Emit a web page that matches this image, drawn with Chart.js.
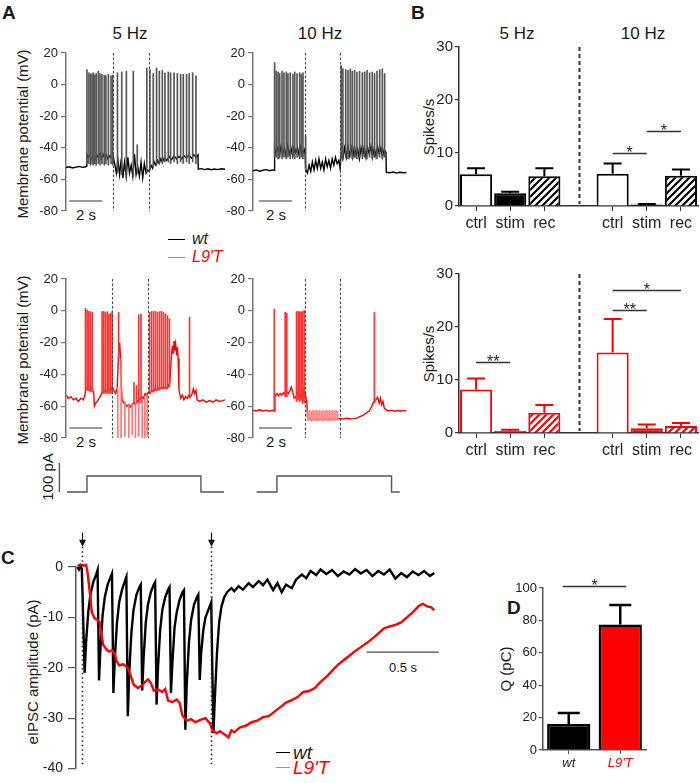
<!DOCTYPE html>
<html>
<head>
<meta charset="utf-8">
<title>Firing and eIPSC figure</title>
<script src="https://cdn.jsdelivr.net/npm/chart.js@4.4.0/dist/chart.umd.min.js"></script>
<style>
  body { margin: 0; background: #fff; }
  #fig { position: relative; width: 700px; height: 783px; overflow: hidden;
         font-family: "Liberation Sans", Arial, Helvetica, sans-serif; color: #1a1a1a; }
  #fig canvas { position: absolute; }
  .t { position: absolute; white-space: nowrap; line-height: 1; }
  .panel { font-weight: bold; font-size: 19px; }
  .ttl { font-size: 17px; transform: translate(-50%, -50%); }
  .rot { font-size: 15px; transform: translate(-50%, -50%) rotate(-90deg); }
  .lbl { font-size: 15px; transform: translate(-50%, -50%); }
  .leg { font-style: italic; transform: translateY(-50%); }
  .ln { position: absolute; height: 0; }
</style>
</head>
<body>
<div id="fig">
  <div class="t panel" style="left:2px;top:3px">A</div>
  <div class="t panel" style="left:411px;top:3px">B</div>
  <div class="t panel" style="left:1px;top:548px">C</div>
  <div class="t panel" style="left:507px;top:598px">D</div>

  <div class="t ttl" style="left:130px;top:33px">5 Hz</div>
  <div class="t ttl" style="left:320px;top:33px">10 Hz</div>
  <div class="t ttl" style="left:517px;top:33px">5 Hz</div>
  <div class="t ttl" style="left:643px;top:33px">10 Hz</div>

  <div class="t rot" style="left:22px;top:134px">Membrane potential (mV)</div>
  <div class="t rot" style="left:22px;top:360px">Membrane potential (mV)</div>
  <div class="t rot" style="left:428px;top:127px">Spikes/s</div>
  <div class="t rot" style="left:428px;top:354px">Spikes/s</div>
  <div class="t rot" style="left:47px;top:477px">100 pA</div>
  <div class="t rot" style="left:32px;top:672px">eIPSC amplitude (pA)</div>
  <div class="t rot" style="left:505px;top:669px">Q (pC)</div>

  <div class="t lbl" style="left:86px;top:214px">2 s</div>
  <div class="t lbl" style="left:276px;top:214px">2 s</div>
  <div class="t lbl" style="left:86px;top:441px">2 s</div>
  <div class="t lbl" style="left:276px;top:441px">2 s</div>
  <div class="t lbl" style="left:403px;top:667px;font-size:13px">0.5 s</div>

  <div class="ln" style="left:168px;top:239px;width:17px;border-top:1.5px solid #000"></div>
  <div class="t leg" style="left:192px;top:239px;font-size:16px">wt</div>
  <div class="ln" style="left:168px;top:257px;width:17px;border-top:1.5px solid #f66"></div>
  <div class="t leg" style="left:192px;top:257px;font-size:16px;color:#f00">L9'T</div>

  <div class="ln" style="left:276px;top:752px;width:14px;border-top:1.5px solid #000"></div>
  <div class="t leg" style="left:293px;top:752px;font-size:19px">wt</div>
  <div class="ln" style="left:276px;top:767px;width:14px;border-top:1.5px solid #f66"></div>
  <div class="t leg" style="left:293px;top:767px;font-size:19px;color:#f00">L9'T</div>
</div>

<script>
// ===== DATA =====

// Panel A: membrane potential traces, [time (s), mV]
const wt5Trace = [[0,-52.5],[0.2,-52],[0.4,-52.8],[0.6,-52.2],[0.8,-51.8],[1.0,-52.4],[1.2,-52],[1.25,-51.5],
  [1.26,-44],[1.35,-46],[1.45,-44.5],[1.55,-47],[1.65,-45],[1.75,-48],[1.85,-44],[1.95,-46],[2.05,-43.5],[2.15,-47],
  [2.25,-44],[2.35,-46.5],[2.45,-44.5],[2.55,-47.5],[2.65,-45],[2.75,-46],[2.85,-44.5],
  [2.95,-50],[3.05,-56],[3.15,-48],[3.25,-57],[3.35,-47],[3.45,-59],[3.55,-49],[3.65,-58],[3.75,-46],[3.85,-56],
  [3.95,-51],[4.05,-58],[4.15,-44],[4.25,-57],[4.35,-52],[4.45,-58],[4.55,-49],[4.65,-59],[4.75,-50],[4.85,-56],
  [4.95,-54],[5.05,-55],[5.15,-51],[5.25,-53],[5.35,-49],[5.45,-51],[5.55,-48],[5.65,-50],[5.75,-47],[5.85,-49],
  [5.95,-46.5],[6.1,-48],[6.25,-45.5],[6.4,-47.5],[6.55,-45],[6.7,-47],[6.85,-45.5],[7.0,-47],[7.15,-45],[7.3,-46.5],
  [7.45,-44.5],[7.6,-46.5],[7.75,-44.5],[7.9,-46],[8.0,-44.5],[8.02,-53.5],[8.2,-53.2],[8.4,-53.8],[8.6,-53.3],
  [8.8,-53.9],[9.0,-53.4],[9.2,-53.8],[9.4,-53.3],[9.64,-53.6]];
// spikes: [time, trough, peak]
const wt5Spikes = [[1.27,-50,9.5],[1.39,-50,7.5],[1.49,-51,6.5],[1.58,-50,7],[1.66,-51,7.5],[1.75,-50,6],[1.83,-51,7],
  [1.96,-50,8.5],[2.06,-51,7],[2.18,-50,6.5],[2.32,-51,6],[2.42,-50,5.5],[2.57,-51,6.5],[2.73,-50,5.5],[2.83,-51,6],
  [3.12,-56,7.5],[3.38,-57,8],[3.66,-58,8.5],[4.08,-58,8.5],[4.32,-56,-38],[4.9,-56,10.5],
  [5.09,-53,9.5],[5.29,-52,7],[5.49,-51,10.5],[5.66,-50,8.5],[5.84,-50,9],[6.0,-49,7.5],[6.2,-49,8],[6.34,-50,7.5],
  [6.55,-49,7.5],[6.75,-50,7],[6.95,-49,6.5],[7.11,-50,6.5],[7.31,-49,6.5],[7.47,-50,7],[7.68,-49,7.5],[7.88,-50,5.5]];
const wt5Stim = [2.83, 5.01];

const wt10Trace = [[0,-54.5],[0.2,-54],[0.4,-54.8],[0.6,-54.2],[0.8,-53.8],[1.0,-54.5],[1.2,-54],[1.3,-54.3],
  [1.31,-40],[1.4,-44],[1.5,-40],[1.6,-45],[1.7,-39],[1.8,-44],[1.9,-40],[2.0,-45],[2.1,-38.5],[2.2,-44],[2.3,-40],
  [2.4,-45],[2.5,-39],[2.6,-43],[2.7,-40],[2.8,-45],[2.9,-39.5],[3.0,-44],[3.1,-41],[3.15,-43],
  [3.2,-54],[3.3,-56],[3.4,-51],[3.5,-55],[3.6,-49],[3.7,-54],[3.8,-48],[3.9,-53],[4.0,-47],[4.1,-53],[4.2,-49],
  [4.3,-54],[4.4,-47],[4.5,-52],[4.6,-48],[4.7,-53],[4.8,-47],[4.9,-51],[5.0,-46],[5.1,-50],[5.2,-48],[5.28,-53],
  [5.35,-42],[5.45,-47],[5.55,-40],[5.65,-46],[5.75,-39],[5.85,-45],[5.95,-40],[6.05,-46],[6.15,-39],[6.25,-45],
  [6.35,-41],[6.45,-47],[6.55,-40],[6.65,-45],[6.75,-39],[6.85,-46],[6.95,-40],[7.05,-44],[7.15,-39],[7.25,-46],
  [7.35,-40],[7.45,-45],[7.55,-39],[7.65,-44],[7.75,-40],[7.85,-46],[7.95,-41],[8.06,-43],
  [8.08,-55.5],[8.3,-55.8],[8.5,-55.3],[8.7,-56],[8.9,-55.5],[9.1,-55.8],[9.3,-55.6]];
const wt10Spikes = [[1.31,-46,14],[1.41,-46,8.5],[1.52,-47,8],[1.62,-46,7],[1.76,-47,8.5],[1.88,-46,7.5],[2.02,-47,8],
  [2.12,-46,7],[2.26,-47,7.5],[2.42,-46,6.5],[2.53,-47,8],[2.67,-46,7],[2.83,-47,7.5],[2.93,-46,6.5],[3.03,-47,7.5],
  [3.19,-54,-32.5],[5.35,-47,12],[5.45,-47,10],[5.62,-46,9.5],[5.76,-47,9],[5.9,-46,10],[6.02,-47,8.5],[6.16,-46,9],
  [6.3,-47,8],[6.46,-46,8.5],[6.63,-47,7.5],[6.77,-46,8],[6.91,-47,9],[7.07,-46,7.5],[7.23,-47,8],[7.37,-46,7],
  [7.52,-47,8.5],[7.68,-46,9.5],[7.84,-47,10],[7.98,-46,7]];
const wt10Stim = [3.13, 5.29];

const l9t5Trace = [[0,-53],[0.15,-55],[0.3,-54],[0.45,-56],[0.6,-55],[0.75,-57],[0.9,-55],[1.05,-56],[1.15,-53],
  [1.2,-49],[1.3,-48],[1.4,-50],[1.5,-48],[1.6,-49],[1.68,-52],[1.72,-60],[1.8,-58],[1.9,-57],[2.0,-55],[2.1,-53.5],
  [2.2,-51],[2.3,-50],[2.4,-51],[2.5,-50],[2.6,-49],[2.7,-50],[2.8,-48],[2.9,-50],[3.0,-52],[3.1,-49],[3.2,-24],
  [3.25,-20],[3.3,-28],[3.35,-45],[3.4,-56],[3.5,-58],[3.6,-59],[3.7,-60],[3.8,-59],[3.9,-60.5],[4.0,-59],[4.1,-58],
  [4.2,-59],[4.3,-57],[4.4,-56],[4.5,-55],[4.6,-54],[4.7,-55],[4.8,-52],[4.9,-53],[5.0,-51],[5.1,-52],[5.2,-50],
  [5.3,-51],[5.4,-49],[5.5,-50],[5.6,-48.5],[5.7,-49],[5.8,-48],[5.9,-49],[6.0,-48],[6.1,-49],[6.2,-47.5],[6.3,-45],
  [6.38,-30],[6.45,-22],[6.5,-27],[6.55,-19],[6.6,-25],[6.65,-21],[6.7,-28],[6.75,-23],[6.8,-30],[6.85,-50],
  [6.95,-55],[7.05,-53],[7.15,-56],[7.25,-54],[7.35,-55],[7.45,-53],[7.55,-54],[7.65,-52],[7.72,-49],[7.8,-52],
  [7.88,-50],[7.95,-56],[8.1,-57],[8.3,-56],[8.5,-57.5],[8.7,-56.5],[8.9,-57.5],[9.1,-56],[9.3,-57],[9.5,-56.5],[9.64,-56]];
const l9t5Spikes = [[1.21,-50,1.5],[1.31,-50,0.5],[1.41,-50,0],[1.52,-51,-0.5],[1.62,-51,-1],
  [2.22,-52,-0.5],[2.32,-52,0],[2.42,-52,-1],[2.53,-52,-0.5],[2.63,-52,-2],[2.73,-52,-1.5],[2.83,-52,-0.5],
  [3.22,-30,-1],[4.15,-58,-45],[4.3,-58,-47],[4.44,-58,-2.5],[4.58,-58,-2],
  [5.1,-52,-1],[5.22,-51,0],[5.34,-51,-0.5],[5.46,-50,0],[5.58,-50,-1],[5.7,-50,-0.5],[5.82,-49,0],[5.94,-49,-1],
  [6.06,-49,-2],[6.18,-49,-3],[6.3,-48,-5],[7.52,-55,-4]];
// stimulation artefacts, [time, low, high]
const l9t5Artefacts = [[3.11,-80,-48],[3.31,-80,-30],[3.54,-79,-57],[3.78,-80,-59],[3.98,-78,-59],[4.18,-80,-58],
  [4.38,-79,-57],[4.59,-80,-55],[4.75,-80,-54],[4.89,-79,-53]];
const l9t5Stim = [2.77, 4.95];

const l9t10Trace = [[0,-62.5],[0.2,-63],[0.4,-62.3],[0.6,-63],[0.8,-62.5],[1.0,-63.2],[1.2,-62.6],[1.3,-63],
  [1.33,-54],[1.45,-52],[1.55,-53.5],[1.65,-52],[1.75,-53],[1.85,-51.5],[1.95,-52.5],[2.05,-51],[2.15,-52],[2.25,-50],
  [2.32,-48],[2.4,-51],[2.5,-55],[2.6,-54],[2.7,-52],[2.8,-56],[2.9,-53],[3.0,-57],[3.1,-50],[3.2,-54],[3.27,-58],
  [3.3,-67],[3.5,-68.5],[3.7,-68],[3.9,-68.5],[4.1,-68],[4.3,-68.3],[4.5,-67.8],[4.7,-68.2],[4.9,-67.8],[5.1,-68],
  [5.3,-67.8],[5.5,-68],[5.7,-67.6],[5.9,-68],[6.1,-67.8],[6.3,-67.5],[6.5,-66.5],[6.7,-65.5],[6.9,-64],[7.05,-63],
  [7.2,-60],[7.3,-57.5],[7.45,-56],[7.55,-54.5],[7.65,-58],[7.72,-55],[7.8,-59],[7.88,-57],[7.95,-61],[8.05,-62],
  [8.2,-63],[8.4,-62.5],[8.6,-63.2],[8.8,-62.7],[9.0,-63],[9.3,-62.8]];
const l9t10Spikes = [[1.32,-63,1],[1.98,-54,-1],[2.08,-54,-1.5],[2.67,-57,-0.5],[2.77,-56,0],[2.87,-57,-0.5],
  [2.95,-56,-1],[3.03,-57,0],[3.13,-58,0.2],[7.39,-58,-1]];
const l9t10Artefacts = [[3.3,-69,-63],[3.4,-69,-62.5],[3.5,-69.5,-63],[3.6,-69,-62.5],[3.7,-69,-63],[3.8,-69.5,-62.5],
  [3.9,-69,-63],[4.0,-69,-62.5],[4.1,-69,-63],[4.2,-69.5,-62.5],[4.3,-69,-63],[4.4,-69,-62.5],[4.5,-69,-63],
  [4.6,-69.5,-62.5],[4.7,-69,-63],[4.8,-69,-62.5],[4.9,-69,-63],[5.0,-69,-62.5],[5.1,-68.5,-63]];
const l9t10Stim = [3.13, 5.29];

// Injected current steps, [time, pA]
const step5 = [[0.06,0],[1.27,0],[1.27,55],[8.18,55],[8.18,0],[9.58,0]];
const step10 = [[0.22,0],[1.45,0],[1.45,55],[8.4,55],[8.4,0],[8.9,0]];

// Panel B: firing rate (spikes/s), mean and mean+SEM
const rateLabels = ['ctrl', 'stim', 'rec', '', 'ctrl', 'stim', 'rec'];
const wtRate = [6.0, 2.4, 5.6, null, 6.1, 0.3, 5.7];
const wtRateErr = [7.1, 2.7, 7.1, null, 8.0, 0.4, 6.9];
const l9tRate = [8.2, 0.4, 3.8, null, 15.2, 0.9, 1.3];
const l9tRateErr = [10.3, 0.6, 5.3, null, 21.5, 1.6, 1.9];
// significance bars: [from index, to index, level, label]
const wtRateSig = [[4, 5, 10, '*'], [5, 6, 14.2, '*']];
const l9tRateSig = [[0, 1, 13.4, '**'], [4, 5, 23.2, '**'], [4, 6, 27, '*']];

// Panel C: eIPSC traces, [time (s), pA]
const ipscWt = [[0.01,0],[0.02,-0.5],[0.03,0.2],[0.04,-0.3],[0.045,-5],[0.06,-21],[0.07,-15],[0.085,-9],[0.1,-5.5],
  [0.12,-3],[0.14,-1.5],[0.15,-0.6],[0.16,-22.5],[0.17,-16],[0.185,-9.5],[0.2,-6],[0.22,-3.5],[0.24,-2],[0.25,-1.3],
  [0.26,-25],[0.27,-18],[0.285,-11],[0.3,-7],[0.32,-4.5],[0.34,-2.8],[0.35,-2],
  [0.36,-29.6],[0.37,-21],[0.385,-13],[0.4,-8.5],[0.42,-5.5],[0.44,-4],[0.45,-3.5],
  [0.46,-24.5],[0.47,-18],[0.485,-11],[0.5,-7.5],[0.52,-5],[0.54,-3.5],[0.55,-3],
  [0.56,-27.3],[0.57,-20],[0.585,-12.5],[0.6,-8.5],[0.62,-6],[0.64,-4.5],[0.65,-4],
  [0.66,-25],[0.67,-19],[0.685,-12],[0.7,-9],[0.72,-6.5],[0.74,-5],[0.75,-4.6],
  [0.76,-32.3],[0.77,-23],[0.785,-15],[0.8,-10.5],[0.82,-7.5],[0.84,-6],[0.85,-5.5],
  [0.86,-22.4],[0.87,-17],[0.885,-12.5],[0.9,-10],[0.92,-8.5],[0.94,-7],
  [0.955,-33],[0.965,-26],[0.98,-17],[0.995,-11],[1.01,-8],[1.03,-6],[1.05,-5],[1.08,-4.2],[1.1,-4.8],[1.13,-3.8],
  [1.16,-4.5],[1.2,-3.2],[1.23,-4],[1.27,-2.8],[1.3,-3.6],[1.33,-2.5],[1.37,-4.6],[1.4,-3.2],[1.43,-5],[1.46,-3.5],
  [1.5,-4.2],[1.53,-2.5],[1.57,-1.5],[1.6,-2.2],[1.63,-0.8],[1.67,-1.6],[1.7,-0.5],[1.74,-1.4],[1.78,-0.6],[1.82,-1.8],
  [1.86,-0.9],[1.9,-1.5],[1.94,-0.4],[1.98,-1.3],[2.02,-0.6],[2.06,-1.8],[2.1,-0.8],[2.14,-1.5],[2.18,-0.5],
  [2.22,-2.3],[2.26,-1.2],[2.3,-2],[2.34,-0.9],[2.38,-1.6],[2.42,-0.8],[2.46,-1.8],[2.49,-1.2]];
const ipscL9t = [[0.01,0.2],[0.03,0.5],[0.05,0.3],[0.07,0.4],[0.08,-1],[0.1,-6],[0.11,-9],[0.13,-10.2],[0.15,-10.5],
  [0.165,-11],[0.18,-14],[0.19,-15.5],[0.21,-16.3],[0.23,-16.8],[0.25,-16.5],[0.27,-17.2],[0.28,-18.5],[0.3,-19.5],
  [0.33,-19.3],[0.36,-20],[0.38,-21.5],[0.4,-23.3],[0.43,-24],[0.46,-23.5],[0.48,-22.8],[0.5,-22.3],[0.52,-23],
  [0.54,-24.5],[0.57,-24.3],[0.6,-24.8],[0.62,-24.2],[0.64,-26.5],[0.67,-26.8],[0.7,-26.3],[0.72,-27],[0.74,-29.5],
  [0.77,-30.5],[0.8,-30.2],[0.83,-30.8],[0.86,-30.4],[0.9,-30],[0.93,-31],[0.95,-32.5],[0.98,-33],[1.0,-32.6],
  [1.03,-33.2],[1.06,-33.8],[1.08,-32.4],[1.1,-32.8],[1.14,-31.8],[1.18,-31.5],[1.22,-30.8],[1.26,-30.5],[1.3,-29.8],
  [1.34,-29.6],[1.38,-28.7],[1.42,-27.8],[1.46,-26.9],[1.5,-26.4],[1.54,-25.8],[1.58,-24.8],[1.62,-24.6],[1.66,-24],
  [1.7,-22.8],[1.74,-21.8],[1.78,-20.6],[1.82,-19.4],[1.86,-18.5],[1.9,-17.6],[1.94,-16.7],[1.98,-15.9],[2.02,-15.1],
  [2.06,-14.2],[2.1,-13.2],[2.14,-12.2],[2.18,-11.8],[2.22,-11.5],[2.26,-11],[2.3,-10],[2.34,-9],[2.38,-7.8],
  [2.41,-7.3],[2.44,-7.8],[2.47,-8],[2.49,-8.6]];
const ipscTrain = [0.04, 0.935];

// Panel D: charge (pC)
const chargeLabels = ['wt', "L9'T"];
const chargeMean = [16, 77.5];
const chargeErr = [22.8, 89.5];
const chargeSig = [[0, 1, 101.5, '*']];

// ===== STYLE =====
const RED = '#ff0000';
const FONT = '"Liberation Sans", Arial, Helvetica, sans-serif';
Chart.defaults.font.family = FONT;
Chart.defaults.color = '#222';

/**
 * Create an absolutely placed canvas whose chart area lands on `area`
 */
function placeCanvas(id, area, pad) {
  const c = document.createElement('canvas');
  c.id = id;
  c.width = area.r - area.l + pad.l + pad.r;
  c.height = area.b - area.t + pad.t + pad.b;
  c.style.left = (area.l - pad.l) + 'px';
  c.style.top = (area.t - pad.t) + 'px';
  document.getElementById('fig').appendChild(c);
  return c;
}

function yAxis(min, max, step, size, width, color, tick, pad) {
  return {
    min, max,
    ticks: { stepSize: step, font: { size }, color: '#222', padding: pad },
    grid: { drawOnChartArea: false, drawTicks: true, tickLength: tick, color, lineWidth: 1.2 },
    border: { display: true, color, width: 1.5 },
    afterFit(s) { s.width = width; }
  };
}

const toXY = arr => arr.map(p => ({ x: p[0], y: p[1] }));
const toFloat = arr => arr.map(p => ({ x: p[0], y: [p[1], p[2]] }));

// Draws dashed markers, scale bars, error bars, significance bars and arrows
const marksPlugin = {
  id: 'marks',
  afterDatasetsDraw(chart, args, o) {
    const ctx = chart.ctx;
    const X = v => chart.scales.x.getPixelForValue(v);
    const Y = v => chart.scales.y.getPixelForValue(v);
    ctx.save();

    (o.vlines || []).forEach(l => {
      const px = Math.round(X(l.x)) + 0.5;
      ctx.beginPath();
      ctx.setLineDash(l.dash || []);
      ctx.strokeStyle = l.color;
      ctx.lineWidth = l.width;
      ctx.moveTo(px, Y(l.from));
      ctx.lineTo(px, Y(l.to));
      ctx.stroke();
    });
    ctx.setLineDash([]);

    (o.bars || []).forEach(b => {
      ctx.beginPath();
      ctx.strokeStyle = b.color;
      ctx.lineWidth = b.width;
      ctx.moveTo(X(b.x0), Y(b.y0));
      ctx.lineTo(X(b.x1), Y(b.y1));
      ctx.stroke();
    });

    if (o.errors) {
      const meta = chart.getDatasetMeta(0);
      const e = o.errors;
      ctx.strokeStyle = e.color;
      ctx.lineWidth = e.width;
      e.hi.forEach((hi, i) => {
        if (hi == null) return;
        const cx = meta.data[i].x;
        const yh = Y(hi);
        ctx.beginPath();
        ctx.moveTo(cx, Y(e.mean[i]));
        ctx.lineTo(cx, yh);
        ctx.moveTo(cx - e.cap, yh);
        ctx.lineTo(cx + e.cap, yh);
        ctx.stroke();
      });
    }

    (o.sig || []).forEach(s => {
      const meta = chart.getDatasetMeta(0);
      const x0 = meta.data[s[0]].x - (o.sigExt || 0);
      const x1 = meta.data[s[1]].x + (o.sigExt || 0);
      const y = Math.round(Y(s[2])) + 0.5;
      ctx.beginPath();
      ctx.strokeStyle = '#333';
      ctx.lineWidth = 1.3;
      ctx.moveTo(x0, y);
      ctx.lineTo(x1, y);
      ctx.stroke();
      ctx.fillStyle = '#222';
      ctx.font = '16px ' + FONT;
      ctx.textAlign = 'center';
      ctx.textBaseline = 'alphabetic';
      ctx.fillText(s[3], (x0 + x1) / 2, y + 4);
    });

    (o.arrows || []).forEach(a => {
      const px = Math.round(X(a.x)) + 0.5;
      const tip = Y(a.to);
      ctx.beginPath();
      ctx.strokeStyle = '#111';
      ctx.lineWidth = 1.2;
      ctx.moveTo(px, Y(a.from));
      ctx.lineTo(px, tip - 5);
      ctx.stroke();
      ctx.beginPath();
      ctx.fillStyle = '#111';
      ctx.moveTo(px - 3.5, tip - 7);
      ctx.lineTo(px + 3.5, tip - 7);
      ctx.lineTo(px, tip);
      ctx.closePath();
      ctx.fill();
    });

    ctx.restore();
  }
};

const baseOptions = () => ({
  responsive: false,
  animation: false,
  events: [],
  plugins: { legend: { display: false }, tooltip: { enabled: false } }
});

// ===== PANEL A =====
const A_X_MAX = 9.7;

function traceChart(id, area, trace, spikeSets, color, stim) {
  const canvas = placeCanvas(id, area, { l: 46, t: 12, r: 4, b: 12 });
  const datasets = [{
    type: 'line', data: toXY(trace), borderColor: color, borderWidth: 1.4,
    pointRadius: 0, tension: 0, order: 2
  }];
  spikeSets.forEach(s => datasets.push({
    type: 'bar', data: toFloat(s.data), backgroundColor: s.color,
    borderWidth: 0, barThickness: 1, order: 1
  }));
  const opts = baseOptions();
  opts.layout = { padding: { top: 12, bottom: 12, left: 0, right: 4 } };
  opts.plugins.marks = {
    vlines: stim.map(t => ({ x: t, from: 20, to: -80, dash: [2.5, 2], color: '#444', width: 1.1 })),
    bars: [{ x0: area.barStart, x1: area.barStart + 2, y0: -73.7, y1: -73.7, color: '#777', width: 1.6 }]
  };
  opts.scales = {
    x: { type: 'linear', min: 0, max: A_X_MAX, display: false, offset: false },
    y: yAxis(-80, 20, 20, 13, 46, '#777', 5, 3)
  };
  return new Chart(canvas, { type: 'line', data: { datasets }, options: opts, plugins: [marksPlugin] });
}

traceChart('wt5', { l: 66, t: 53, r: 226, b: 211, barStart: 0.2 }, wt5Trace,
  [{ data: wt5Spikes, color: '#555' }], '#000', wt5Stim);
traceChart('wt10', { l: 253, t: 53, r: 413, b: 211, barStart: 0.36 }, wt10Trace,
  [{ data: wt10Spikes, color: '#555' }], '#000', wt10Stim);
traceChart('l9t5', { l: 66, t: 279, r: 226, b: 438, barStart: 0.2 }, l9t5Trace,
  [{ data: l9t5Spikes, color: '#f33' }, { data: l9t5Artefacts, color: '#f77' }], RED, l9t5Stim);
traceChart('l9t10', { l: 253, t: 279, r: 413, b: 438, barStart: 0.36 }, l9t10Trace,
  [{ data: l9t10Spikes, color: '#f33' }, { data: l9t10Artefacts, color: '#f88' }], RED, l9t10Stim);

function stepChart(id, area, step, withScale) {
  const canvas = placeCanvas(id, area, { l: 26, t: 4, r: 4, b: 4 });
  const opts = baseOptions();
  opts.layout = { padding: { top: 4, bottom: 4, left: 26, right: 4 } };
  opts.plugins.marks = withScale
    ? { bars: [{ x0: -0.4, x1: -0.4, y0: 0, y1: 100, color: '#555', width: 1.4 }] } : {};
  opts.scales = {
    x: { type: 'linear', min: 0, max: A_X_MAX, display: false },
    y: { min: 0, max: 100, display: false }
  };
  return new Chart(canvas, {
    type: 'line',
    data: { datasets: [{ data: toXY(step), borderColor: '#555', borderWidth: 1.4, pointRadius: 0, tension: 0, clip: false }] },
    options: opts,
    plugins: [marksPlugin]
  });
}

stepChart('step5', { l: 66, t: 463, r: 226, b: 492 }, step5, true);
stepChart('step10', { l: 253, t: 463, r: 413, b: 492 }, step10, false);

// ===== PANEL B =====
function hatch(color) {
  const p = document.createElement('canvas');
  p.width = 7; p.height = 7;
  const g = p.getContext('2d');
  g.fillStyle = '#fff';
  g.fillRect(0, 0, 7, 7);
  g.strokeStyle = color;
  g.lineWidth = 2.2;
  g.beginPath();
  g.moveTo(-1, 8); g.lineTo(8, -1);
  g.moveTo(-1, 1); g.lineTo(1, -1);
  g.moveTo(6, 8); g.lineTo(8, 6);
  g.stroke();
  return g.createPattern(p, 'repeat');
}

function rateChart(id, area, means, errs, fills, edge, sig) {
  const canvas = placeCanvas(id, area, { l: 26, t: 12, r: 2, b: 30 });
  const opts = baseOptions();
  opts.layout = { padding: { top: 12, bottom: 4, left: 0, right: 2 } };
  opts.plugins.marks = {
    errors: { mean: means, hi: errs, color: edge, width: 2, cap: 9 },
    sig,
    vlines: [{ x: 3, from: 30, to: 0.4, dash: [4, 3], color: '#333', width: 2 }]
  };
  opts.scales = {
    x: {
      ticks: { font: { size: 16 }, color: '#222', padding: 3, maxRotation: 0, minRotation: 0, autoSkip: false },
      grid: { offset: false, drawOnChartArea: false, drawTicks: true, tickLength: 5,
              color: c => (c.index === 3 ? 'rgba(0,0,0,0)' : '#333') },
      border: { display: true, color: '#333', width: 1.5 },
      afterFit(s) { s.height = 26; }
    },
    y: yAxis(0, 30, 10, 15, 26, '#333', 4, 2)
  };
  return new Chart(canvas, {
    type: 'bar',
    data: {
      labels: rateLabels,
      datasets: [{ data: means, backgroundColor: fills, borderColor: edge, borderWidth: 2,
                   barPercentage: 0.94, categoryPercentage: 1 }]
    },
    options: opts,
    plugins: [marksPlugin]
  });
}

const hatchBlack = hatch('#000');
const hatchRed = hatch(RED);
rateChart('rateWt', { l: 459, t: 47, r: 698, b: 206 }, wtRate, wtRateErr,
  ['#fff', '#000', hatchBlack, '#fff', '#fff', '#000', hatchBlack], '#000', wtRateSig);
rateChart('rateL9t', { l: 459, t: 274, r: 698, b: 433 }, l9tRate, l9tRateErr,
  ['#fff', RED, hatchRed, '#fff', '#fff', RED, hatchRed], RED, l9tRateSig);

// ===== PANEL C =====
(function () {
  const area = { l: 76, t: 567, r: 440, b: 778 };
  const canvas = placeCanvas('ipsc', area, { l: 34, t: 40, r: 4, b: 4 });
  const opts = baseOptions();
  opts.layout = { padding: { top: 40, bottom: 4, left: 0, right: 4 } };
  opts.plugins.marks = {
    vlines: ipscTrain.map(t => ({ x: t, from: 4, to: -39.5, dash: [1.5, 3], color: '#222', width: 1.6 })),
    arrows: ipscTrain.map(t => ({ x: t, from: 6.8, to: 4 })),
    bars: [{ x0: 2.02, x1: 2.52, y0: -16.9, y1: -16.9, color: '#444', width: 1.2 }]
  };
  opts.scales = {
    x: { type: 'linear', min: 0, max: 2.53, display: false },
    y: yAxis(-40, 0, 10, 14, 34, '#555', 8, 5)
  };
  new Chart(canvas, {
    type: 'line',
    data: {
      datasets: [
        { data: toXY(ipscL9t), borderColor: RED, borderWidth: 2.4, pointRadius: 0, tension: 0, clip: false, order: 1 },
        { data: toXY(ipscWt), borderColor: '#000', borderWidth: 2.4, pointRadius: 0, tension: 0, clip: false, order: 2 }
      ]
    },
    options: opts,
    plugins: [marksPlugin]
  });
})();

// ===== PANEL D =====
(function () {
  const area = { l: 543, t: 588, r: 646, b: 750 };
  const canvas = placeCanvas('charge', area, { l: 30, t: 24, r: 4, b: 26 });
  const opts = baseOptions();
  opts.layout = { padding: { top: 24, bottom: 4, left: 0, right: 4 } };
  opts.plugins.marks = {
    errors: { mean: chargeMean, hi: chargeErr, color: '#000', width: 2.5, cap: 11 },
    sig: chargeSig,
    sigExt: 6
  };
  opts.scales = {
    x: {
      ticks: { font: { size: 13, style: 'italic' }, color: c => (c.index === 1 ? RED : '#222'), padding: 2,
               maxRotation: 0, minRotation: 0, autoSkip: false },
      grid: { offset: false, drawOnChartArea: false, drawTicks: true, tickLength: 4, color: '#555' },
      border: { display: true, color: '#555', width: 1.5 },
      afterFit(s) { s.height = 22; }
    },
    y: yAxis(0, 100, 20, 13, 30, '#555', 4, 2)
  };
  new Chart(canvas, {
    type: 'bar',
    data: {
      labels: chargeLabels,
      datasets: [{ data: chargeMean, backgroundColor: ['#000', RED], borderColor: '#000', borderWidth: 2.5,
                   barPercentage: 0.84, categoryPercentage: 1 }]
    },
    options: opts,
    plugins: [marksPlugin]
  });
})();
</script>
</body>
</html>
